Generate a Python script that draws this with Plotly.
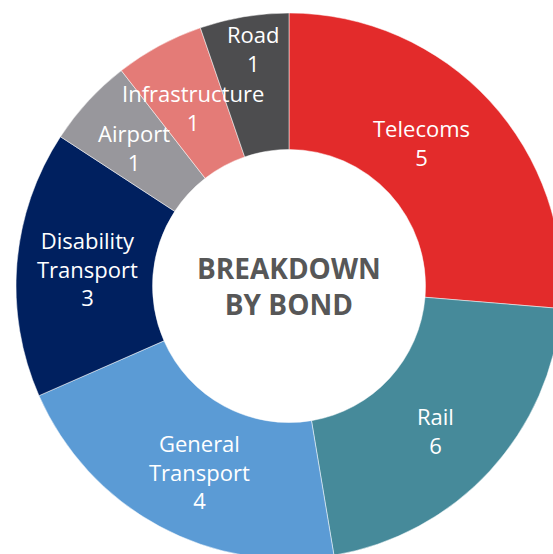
import math
import plotly.graph_objects as go

categories = ["Telecoms", "Rail", "General<br>Transport", "Disability<br>Transport", "Airport", "Infrastructure", "Road"]
slice_values = [5, 4, 4, 3, 1, 1, 1]
shown_counts = [5, 6, 4, 3, 1, 1, 1]
colors = ["#E32B2B", "#468A9A", "#5B9BD5", "#00205F", "#98979C", "#E47B77", "#4D4D4F"]
center_title = "BREAKDOWN<br>BY BOND"

# label placement style (radius as fraction of outer radius, angle nudge in degrees)
label_r = [0.717, 0.754, 0.755, 0.74, 0.76, 0.742, 0.88]
label_nudge = [-4.6, 1.8, -2.8, 0.3, -0.9, 0.0, 1.0]

W, H = 578, 572
cx, cy, R = 289, 286, 273

fig = go.Figure(go.Pie(
    labels=categories,
    values=slice_values,
    textinfo="none",
    sort=False,
    direction="clockwise",
    rotation=0,
    hole=0.5,
    marker=dict(colors=colors, line=dict(color="white", width=0.5)),
    domain=dict(x=[(cx - R) / W, (cx + R) / W], y=[1 - (cy + R) / H, 1 - (cy - R) / H]),
    showlegend=False,
    hoverinfo="label+value",
))

total = sum(slice_values)
cum = 0
for cat, v, n, rf, nd in zip(categories, slice_values, shown_counts, label_r, label_nudge):
    ang = math.radians((cum + v / 2) / total * 360 + nd)
    cum += v
    px = cx + rf * R * math.sin(ang)
    py = cy - rf * R * math.cos(ang)
    fig.add_annotation(
        text=f"{cat}<br>{n}",
        x=px / W, y=1 - py / H, xref="paper", yref="paper",
        xanchor="center", yanchor="middle",
        showarrow=False, borderpad=0,
        font=dict(family="Open Sans", size=22, color="white"),
    )

fig.add_annotation(
    text=f"<b>{center_title}</b>",
    x=cx / W, y=1 - cy / H, xref="paper", yref="paper",
    xanchor="center", yanchor="middle",
    showarrow=False, borderpad=0,
    font=dict(family="Open Sans", size=28, color="#575757"),
)

fig.update_layout(
    width=W, height=H,
    margin=dict(l=0, r=0, t=0, b=0),
    paper_bgcolor="white",
    plot_bgcolor="white",
)

fig.write_html(
    "out.html",
    config={"displayModeBar": False},
    post_script="document.body.style.margin='0';document.body.style.overflow='hidden';",
)
